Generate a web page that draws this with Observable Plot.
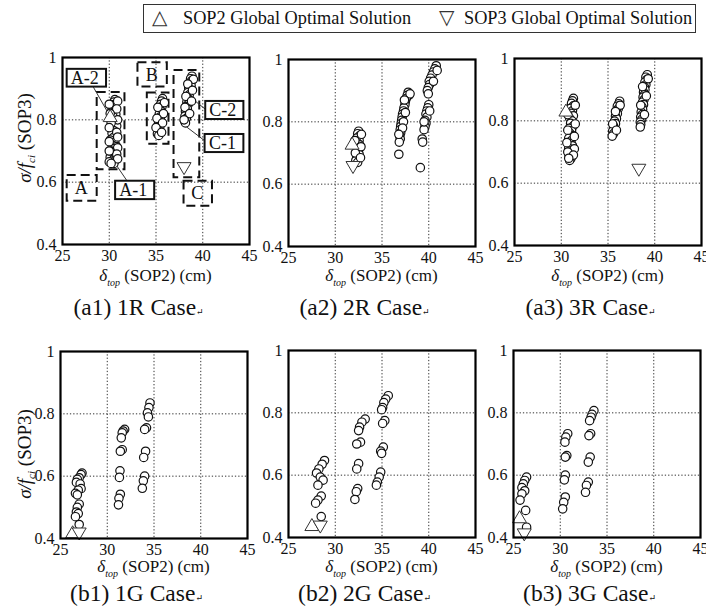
<!DOCTYPE html>
<html><head><meta charset="utf-8">
<script src="https://cdn.jsdelivr.net/npm/d3@7"></script>
<script src="https://cdn.jsdelivr.net/npm/@observablehq/plot@0.6"></script>
<style>
html,body{margin:0;padding:0;background:#fff;}
#root{position:relative;width:706px;height:614px;overflow:hidden;font-family:"Liberation Serif","DejaVu Serif",serif;color:#111;}
.pn{position:absolute;}
.xl{position:absolute;width:240px;text-align:center;font-size:17px;white-space:nowrap;}
.xl sub{font-size:10px;font-style:italic;vertical-align:-5px;}
.cap{position:absolute;width:270px;text-align:center;font-size:23.5px;white-space:nowrap;}
.rm{font-size:9px;}
.yl{position:absolute;font-size:19px;white-space:nowrap;transform:translate(-50%,-50%) rotate(-90deg);}
.yl sub{font-size:11px;font-style:italic;vertical-align:-4px;}
#leg{position:absolute;left:143px;top:4px;width:553px;height:29px;border:1px solid #333;box-sizing:border-box;font-size:18.3px;}
#leg span{position:absolute;top:3px;white-space:nowrap;}
#leg .sym{font-family:"DejaVu Sans",sans-serif;font-size:20px;top:0px;color:#333;}
</style></head><body><div id="root"></div>
<script>
// ---------- axis / labels ----------
const xTicks = [25, 30, 35, 40, 45];
const yTicks = [0.4, 0.6, 0.8, 1];
const gridXs = [30, 35, 40];
const gridYs = [0.6, 0.8];
const captions = ["(a1) 1R Case", "(a2) 2R Case", "(a3) 3R Case", "(b1) 1G Case", "(b2) 2G Case", "(b3) 3G Case"];
const legendLabels = ["SOP2 Global Optimal Solution", "SOP3 Global Optimal Solution"];

// ---------- (a1) 1R ----------
const a1X = [30.6,30.5,30.4,30.6,30.3,30.5,30.7,30.4,30.2,30.6,30.4,30.8,30.2,30.5,30.3,30.7,30.4,30.1,30.6,30.3,30.8,30.5,30.2,30.6,30.4,30.1,30.5,30.3,30.7,30.0,30.5,
  30.9,30.0,30.8,30.1,30.9,30.2,30.0,30.8,30.9,30.0,30.9,30.1,30.8,30.0,30.9,30.2,
  35.7,35.6,35.5,35.65,35.4,35.55,35.35,35.5,35.3,35.45,35.25,35.4,35.2,35.35,35.15,35.3,
  35.9,35.2,35.8,35.1,35.7,35.0,35.6,
  38.85,38.7,38.8,38.6,38.75,38.5,38.65,38.4,38.55,38.35,38.5,38.3,38.45,38.2,38.35,38.15,38.3,38.1,38.25,38.05,38.15,
  39.0,38.4,38.9,38.2,38.8,38.1,38.6,38.0];
const a1Y = [0.865,0.857,0.848,0.84,0.832,0.825,0.818,0.81,0.80,0.795,0.787,0.78,0.772,0.765,0.757,0.75,0.742,0.735,0.728,0.72,0.714,0.707,0.70,0.693,0.686,0.68,0.674,0.668,0.672,0.665,0.66,
  0.86,0.85,0.835,0.82,0.80,0.79,0.775,0.76,0.745,0.73,0.71,0.70,0.69,0.70,0.675,0.66,
  0.868,0.86,0.85,0.843,0.835,0.827,0.818,0.81,0.80,0.792,0.785,0.777,0.77,0.762,0.755,0.75,
  0.855,0.84,0.82,0.805,0.79,0.775,0.76,
  0.94,0.932,0.925,0.917,0.91,0.902,0.895,0.887,0.88,0.872,0.865,0.857,0.85,0.842,0.835,0.827,0.82,0.812,0.805,0.797,0.79,
  0.93,0.915,0.895,0.875,0.86,0.84,0.82,0.80];
const a1UpX = [30.1], a1UpY = [0.812];
const a1DnX = [38.0], a1DnY = [0.645];

// annotations of (a1), in data units
const dashX1 = [28.71, 25.5, 33.07, 34.07, 36.93, 38.0];
const dashX2 = [31.68, 28.71, 36.21, 36.39, 39.68, 41.04];
const dashY1 = [0.640, 0.539, 0.905, 0.722, 0.614, 0.523];
const dashY2 = [0.888, 0.621, 0.983, 0.886, 0.958, 0.603];
const dashTagIdx = [1, 2, 5];
const dashTags = ["A", "B", "C"];
const boxTags = ["A-2", "A-1", "C-2", "C-1"];
const boxX1 = [25.5, 30.68, 40.32, 40.25];
const boxX2 = [29.71, 34.86, 44.4, 44.4];
const boxY1 = [0.905, 0.544, 0.801, 0.695];
const boxY2 = [0.962, 0.603, 0.859, 0.753];
const leadX1 = [28.3, 31.93, 40.32, 40.25];
const leadY1 = [0.905, 0.603, 0.833, 0.732];
const leadX2 = [30.3, 30.43, 38.79, 37.93];
const leadY2 = [0.80, 0.669, 0.87, 0.785];

// ---------- (a2) 2R ----------
const a2X = [32.5,32.4,32.6,32.3,32.55,32.35,32.6,32.3,32.5,32.25,32.55,32.3,32.45,32.2,32.4,
  32.8,32.1,32.75,32.15,32.7,
  37.8,37.9,37.7,37.6,37.5,37.45,37.35,37.3,37.2,37.15,37.1,37.05,37.0,36.95,37.0,36.9,36.95,36.85,36.8,
  38.0,37.4,37.5,37.3,37.2,36.8,
  40.8,40.65,40.5,40.35,40.2,40.05,40.1,39.95,39.85,39.95,40.9,40.5,
  40.0,39.9,39.8,39.7,39.8,39.6,39.7,39.6,39.5,39.3,39.35,39.1,40.1,39.5];
const a2Y = [0.77,0.762,0.755,0.748,0.74,0.733,0.726,0.718,0.71,0.703,0.696,0.689,0.682,0.676,0.67,
  0.76,0.74,0.72,0.70,0.685,
  0.895,0.886,0.885,0.875,0.865,0.855,0.845,0.835,0.825,0.815,0.805,0.795,0.785,0.775,0.765,0.755,0.745,0.735,0.696,
  0.89,0.87,0.83,0.80,0.78,0.76,
  0.98,0.97,0.96,0.95,0.94,0.93,0.92,0.91,0.90,0.89,0.965,0.93,
  0.855,0.845,0.835,0.825,0.815,0.805,0.795,0.785,0.775,0.745,0.735,0.653,0.835,0.80];
const a2UpX = [31.8], a2UpY = [0.73];
const a2DnX = [31.9], a2DnY = [0.655];

// ---------- (a3) 3R ----------
const a3X = [31.3,31.2,31.1,31.3,31.0,31.2,31.05,31.3,30.9,31.15,31.0,31.3,30.85,31.1,30.95,31.25,30.8,31.05,30.9,31.2,30.8,31.0,31.15,30.85,31.05,30.9,
  31.5,30.7,31.5,30.7,31.4,30.6,31.4,30.7,31.3,30.8,
  36.25,36.15,36.0,36.1,35.9,36.0,35.8,35.9,35.7,35.8,35.6,35.7,35.5,35.6,35.45,
  36.3,35.8,35.5,35.9,
  39.2,39.05,39.15,38.95,39.05,38.9,38.95,38.8,38.9,38.75,38.85,38.7,38.8,38.65,38.7,38.55,38.65,38.5,38.6,38.45,38.5,38.45,
  39.3,38.7,39.1,38.5,38.9];
const a3Y = [0.872,0.864,0.856,0.848,0.84,0.832,0.824,0.816,0.808,0.80,0.792,0.784,0.776,0.768,0.76,0.752,0.744,0.736,0.728,0.72,0.712,0.704,0.696,0.688,0.68,0.673,
  0.85,0.82,0.79,0.77,0.75,0.73,0.71,0.70,0.69,0.68,
  0.863,0.855,0.847,0.839,0.831,0.823,0.815,0.807,0.799,0.791,0.783,0.775,0.767,0.759,0.751,
  0.85,0.83,0.79,0.77,
  0.948,0.94,0.932,0.924,0.916,0.908,0.90,0.892,0.884,0.876,0.868,0.86,0.852,0.844,0.836,0.828,0.82,0.812,0.804,0.796,0.788,0.78,
  0.935,0.91,0.88,0.85,0.82];
const a3UpX = [30.5], a3UpY = [0.833];
const a3DnX = [38.3], a3DnY = [0.643];

// ---------- (b1) 1G ----------
const b1X = [27.3,27.2,27.0,26.8,26.7,27.1,27.2,26.9,26.6,26.8,27.0,26.8,26.7,26.9,26.6,27.0,
  31.86,31.7,31.6,31.5,31.6,31.4,31.36,31.3,31.4,31.25,31.2,
  34.57,34.46,34.3,34.4,34.2,34.0,34.1,33.9,34.0,33.86,33.75];
const b1Y = [0.61,0.605,0.595,0.59,0.58,0.575,0.56,0.555,0.545,0.54,0.51,0.50,0.485,0.48,0.47,0.445,
  0.75,0.745,0.739,0.723,0.685,0.68,0.617,0.596,0.542,0.529,0.508,
  0.835,0.82,0.803,0.79,0.755,0.75,0.68,0.66,0.60,0.585,0.561];
const b1UpX = [26.3], b1UpY = [0.42];
const b1DnX = [27.0], b1DnY = [0.416];

// ---------- (b2) 2G ----------
const b2X = [28.85,28.6,28.25,28.0,28.4,28.7,28.15,28.5,28.15,27.9,28.5,
  33.2,32.85,32.6,32.5,32.7,32.3,32.5,32.3,32.4,32.25,32.1,
  35.67,35.4,35.2,35.07,34.96,35.3,35.07,35.14,34.86,34.96,34.86,34.7,34.5,34.4];
const b2Y = [0.647,0.635,0.62,0.607,0.594,0.584,0.568,0.533,0.52,0.51,0.467,
  0.78,0.77,0.754,0.743,0.706,0.70,0.637,0.62,0.557,0.547,0.522,
  0.855,0.844,0.833,0.817,0.81,0.775,0.766,0.69,0.677,0.67,0.61,0.594,0.578,0.568];
const b2UpX = [27.5], b2UpY = [0.44];
const b2DnX = [28.4], b2DnY = [0.435];

// ---------- (b3) 3G ----------
const b3X = [26.4,26.2,26.05,25.9,26.2,25.9,25.7,26.3,26.4,
  30.8,30.6,30.5,30.7,30.54,30.54,30.44,30.54,30.37,30.26,
  33.6,33.4,33.3,33.14,33.25,33.07,33.2,33.0,33.0,32.8,32.7];
const b3Y = [0.594,0.583,0.572,0.56,0.55,0.54,0.52,0.487,0.433,
  0.733,0.722,0.706,0.663,0.658,0.60,0.585,0.53,0.513,0.492,
  0.807,0.795,0.786,0.775,0.733,0.727,0.658,0.642,0.578,0.567,0.545];
const b3UpX = [25.65], b3UpY = [0.465];
const b3DnX = [26.15], b3DnY = [0.41];

// ---------- layout ----------
const W = 187, H = 187, ML = 44, MT = 14, MR = 18, MB = 28;
const panels = [
  {cx:a1X, cy:a1Y, ux:a1UpX, uy:a1UpY, dx:a1DnX, dy:a1DnY, left:62, top:57, ann:true, ylab:138},
  {cx:a2X, cy:a2Y, ux:a2UpX, uy:a2UpY, dx:a2DnX, dy:a2DnY, left:288, top:59},
  {cx:a3X, cy:a3Y, ux:a3UpX, uy:a3UpY, dx:a3DnX, dy:a3DnY, left:514, top:58},
  {cx:b1X, cy:b1Y, ux:b1UpX, uy:b1UpY, dx:b1DnX, dy:b1DnY, left:60, top:351, ylab:454},
  {cx:b2X, cy:b2Y, ux:b2UpX, uy:b2UpY, dx:b2DnX, dy:b2DnY, left:288, top:350},
  {cx:b3X, cy:b3Y, ux:b3UpX, uy:b3UpY, dx:b3DnX, dy:b3DnY, left:513, top:350}
];

const triUp = {draw(ctx, size) {
  const r = Math.sqrt(size / Math.PI);
  ctx.moveTo(0, -1.3 * r); ctx.lineTo(1.4 * r, 1.1 * r); ctx.lineTo(-1.4 * r, 1.1 * r); ctx.closePath();
}};
const triDown = {draw(ctx, size) {
  const r = Math.sqrt(size / Math.PI);
  ctx.moveTo(0, 1.3 * r); ctx.lineTo(1.4 * r, -1.1 * r); ctx.lineTo(-1.4 * r, -1.1 * r); ctx.closePath();
}};

const root = document.getElementById("root");
const font = "'Liberation Serif','DejaVu Serif',serif";

panels.forEach((p, i) => {
  const marks = [
    Plot.gridX(gridXs, {stroke: "#333", strokeOpacity: 1, strokeWidth: 1, strokeDasharray: "1.3,2"}),
    Plot.gridY(gridYs, {stroke: "#333", strokeOpacity: 1, strokeWidth: 1, strokeDasharray: "1.3,2"})
  ];
  if (p.ann) {
    marks.push(
      Plot.rect(dashX1, {x1: dashX1, x2: dashX2, y1: dashY1, y2: dashY2, fill: "none", stroke: "#111", strokeWidth: 2, strokeDasharray: "9,5"}),
      Plot.text(dashTagIdx, {x: k => (dashX1[k] + dashX2[k]) / 2, y: k => (dashY1[k] + dashY2[k]) / 2, text: (k, j) => dashTags[j], fontSize: 18, fontFamily: font, fill: "#111", dx: -1}),
      Plot.link(leadX1, {x1: leadX1, y1: leadY1, x2: leadX2, y2: leadY2, stroke: "#333", strokeWidth: 1}),
      Plot.rect(boxX1, {x1: boxX1, x2: boxX2, y1: boxY1, y2: boxY2, fill: "white", stroke: "#111", strokeWidth: 2}),
      Plot.text(boxTags, {x: (d, k) => (boxX1[k] + boxX2[k]) / 2, y: (d, k) => (boxY1[k] + boxY2[k]) / 2, text: d => d, fontSize: 18, fontFamily: font, fill: "#111", dx: -2})
    );
  }
  marks.push(
    Plot.dot(p.cx, {x: p.cx, y: p.cy, r: 4.2, fill: "white", stroke: "#111", strokeWidth: 1.2}),
    Plot.dot(p.ux, {x: p.ux, y: p.uy, r: 5, symbol: triUp, fill: "white", stroke: "#333", strokeWidth: 1}),
    Plot.dot(p.dx, {x: p.dx, y: p.dy, r: 5, symbol: triDown, fill: "white", stroke: "#333", strokeWidth: 1}),
    Plot.frame({stroke: "#000", strokeWidth: 2.2})
  );
  const chart = Plot.plot({
    width: ML + W + MR, height: MT + H + MB,
    marginLeft: ML, marginTop: MT, marginRight: MR, marginBottom: MB,
    style: {fontFamily: font, fontSize: "16px", background: "transparent", color: "#111", overflow: "visible"},
    x: {domain: [25, 45], ticks: xTicks, tickSize: 0, tickPadding: 5, tickFormat: d => String(d), label: null},
    y: {domain: [0.4, 1], ticks: yTicks, tickSize: 0, tickPadding: 6, tickFormat: d => String(d), label: null},
    marks
  });
  chart.classList.add("pn");
  chart.style.left = (p.left - ML) + "px";
  chart.style.top = (p.top - MT) + "px";
  root.appendChild(chart);

  const cx = p.left + W / 2;
  const row = i < 3 ? 0 : 1;
  const xl = document.createElement("div");
  xl.className = "xl";
  xl.style.left = (cx - 120) + "px";
  xl.style.top = (row === 0 ? 266 : 557) + "px";
  xl.innerHTML = "<i>&delta;</i><sub>top</sub> (SOP2) (cm)";
  root.appendChild(xl);

  const cap = document.createElement("div");
  cap.className = "cap";
  cap.style.left = (cx - 152) + "px";
  cap.style.top = (row === 0 ? 294 : 580) + "px";
  cap.innerHTML = captions[i] + "<span class='rm'>&#8629;</span>";
  root.appendChild(cap);

  if (p.ylab) {
    const yl = document.createElement("div");
    yl.className = "yl";
    yl.style.left = "25px";
    yl.style.top = p.ylab + "px";
    yl.innerHTML = "<i>&sigma;/f</i><sub>ci</sub> (SOP3)";
    root.appendChild(yl);
  }
});

const leg = document.createElement("div");
leg.id = "leg";
leg.innerHTML = "<span class='sym' style='left:8px'>&#9651;</span><span style='left:39px'>" + legendLabels[0] +
  "</span><span class='sym' style='left:295px'>&#9661;</span><span style='left:320px'>" + legendLabels[1] + "</span>";
root.appendChild(leg);
</script>
</body></html>
